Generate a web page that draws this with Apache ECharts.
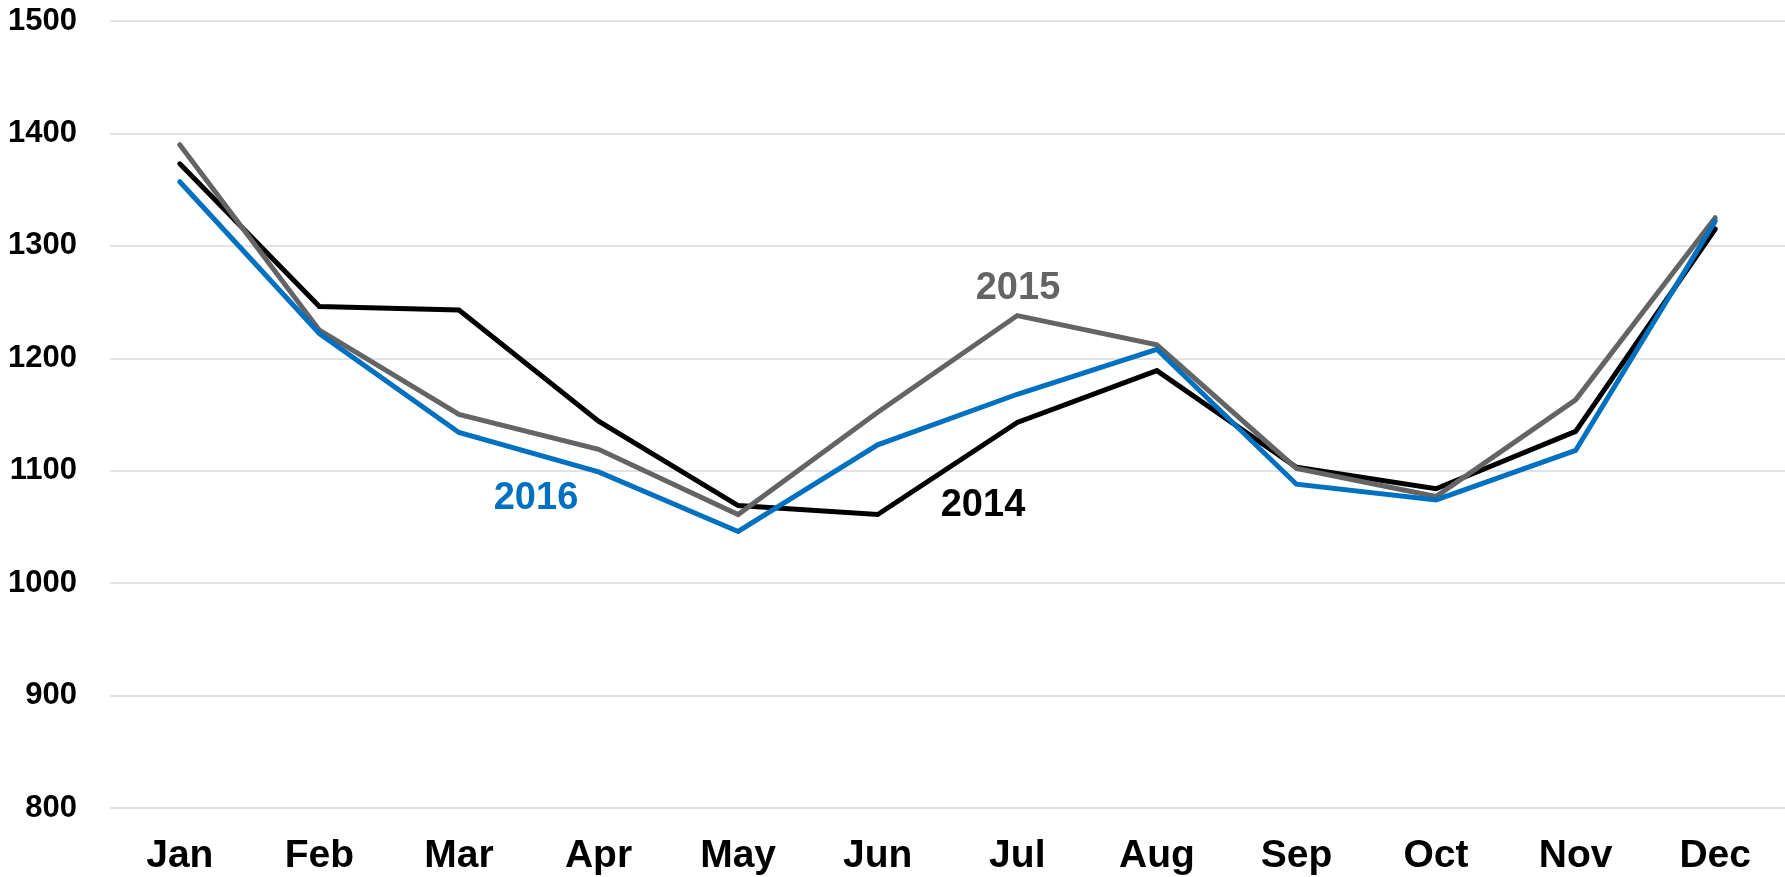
<!DOCTYPE html>
<html>
<head>
<meta charset="utf-8">
<script src="https://cdn.jsdelivr.net/npm/echarts@6/dist/echarts.min.js"></script>
<style>
  html, body { margin: 0; padding: 0; background: #fff; }
  #chart { width: 1785px; height: 877px; }
</style>
</head>
<body>
<div id="chart"></div>
<script>
  // data
  const months = ['Jan', 'Feb', 'Mar', 'Apr', 'May', 'Jun', 'Jul', 'Aug', 'Sep', 'Oct', 'Nov', 'Dec']
  const y2014 = [1373, 1246, 1243, 1144, 1069, 1061, 1143, 1189, 1103, 1084, 1135, 1315]
  const y2015 = [1390, 1225, 1150, 1119, 1061, 1152, 1238, 1212, 1102, 1077, 1163, 1325]
  const y2016 = [1357, 1222, 1134, 1099, 1046, 1123, 1168, 1208, 1088, 1074, 1118, 1322]
  const yTicks = [800, 900, 1000, 1100, 1200, 1300, 1400, 1500]

  const font = '"Liberation Sans", Arial, sans-serif'
  const colors = { y2014: '#000000', y2015: '#646464', y2016: '#0070c0' }

  function lineSeries(name, data, color) {
    return {
      name: name,
      type: 'line',
      data: data,
      symbol: 'none',
      lineStyle: { color: color, width: 5, cap: 'round', join: 'miter' },
      itemStyle: { color: color },
      animation: false
    }
  }

  // series names written next to the lines
  function tag(text, x, y, color) {
    return {
      type: 'text', x: x, y: y, z: 10,
      style: {
        text: text, fill: color,
        font: 'bold 38px ' + font,
        align: 'center', verticalAlign: 'middle'
      }
    }
  }

  const chart = echarts.init(document.getElementById('chart'))
  chart.setOption({
    backgroundColor: '#ffffff',
    animation: false,
    grid: { left: 110, right: -5, top: 21, bottom: 69, containLabel: false },
    xAxis: {
      type: 'category',
      data: months,
      boundaryGap: true,
      axisLine: { show: false },
      axisTick: { show: false },
      axisLabel: {
        color: '#000', fontFamily: font, fontWeight: 'bold', fontSize: 39,
        margin: 29, interval: 0
      }
    },
    yAxis: {
      type: 'value',
      min: yTicks[0],
      max: yTicks[yTicks.length - 1],
      interval: 100,
      axisLine: { show: false },
      axisTick: { show: false },
      axisLabel: {
        color: '#000', fontFamily: font, fontWeight: 'bold', fontSize: 31,
        margin: 33,
        formatter: v => String(v)
      },
      splitLine: { lineStyle: { color: '#d9d9d9', width: 1.5 } }
    },
    graphic: [
      tag('2015', 1018, 289, colors.y2015),
      tag('2016', 536, 499, colors.y2016),
      tag('2014', 983, 506, colors.y2014)
    ],
    series: [
      lineSeries('2014', y2014, colors.y2014),
      lineSeries('2015', y2015, colors.y2015),
      lineSeries('2016', y2016, colors.y2016)
    ]
  })
</script>
</body>
</html>
